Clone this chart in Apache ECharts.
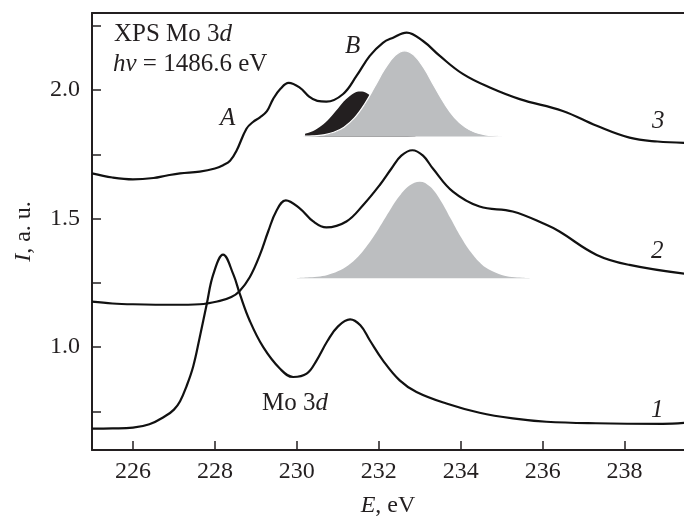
<!DOCTYPE html>
<html>
<head>
<meta charset="utf-8">
<script src="https://cdn.jsdelivr.net/npm/echarts@6/dist/echarts.min.js"></script>
<style>
  html, body { margin: 0; padding: 0; background: #fff; }
  #chart { width: 684px; height: 523px; }
</style>
</head>
<body>
<div id="chart"></div>
<script>
// energies (eV) and intensities (a.u.)
var curve1E = [225.0, 225.5, 226.0, 226.4, 226.8, 227.0, 227.15, 227.3, 227.47, 227.63, 227.8, 227.96, 228.2, 228.45, 228.61, 228.85, 229.18, 229.59, 229.91, 230.24, 230.48, 230.75, 231.0, 231.3, 231.55, 231.78, 232.1, 232.51, 232.92, 233.65, 234.46, 235.27, 236.09, 237.3, 238.93, 239.5];
var curve1I = [0.683, 0.684, 0.687, 0.700, 0.733, 0.757, 0.790, 0.845, 0.925, 1.039, 1.167, 1.283, 1.360, 1.283, 1.206, 1.103, 1.000, 0.916, 0.884, 0.897, 0.948, 1.025, 1.080, 1.108, 1.085, 1.027, 0.949, 0.871, 0.826, 0.781, 0.745, 0.723, 0.710, 0.704, 0.702, 0.706];

var curve2E = [225.0, 225.5, 226.0, 227.0, 227.63, 228.12, 228.4, 228.6, 228.85, 229.1, 229.3, 229.5, 229.73, 230.07, 230.4, 230.72, 231.21, 231.62, 232.02, 232.31, 232.55, 232.82, 233.08, 233.32, 233.81, 234.46, 235.27, 236.09, 236.41, 237.32, 238.12, 239.5];
var curve2I = [1.177, 1.170, 1.167, 1.165, 1.167, 1.180, 1.195, 1.218, 1.272, 1.360, 1.450, 1.530, 1.571, 1.540, 1.489, 1.466, 1.489, 1.553, 1.630, 1.695, 1.745, 1.766, 1.745, 1.695, 1.605, 1.547, 1.528, 1.476, 1.450, 1.359, 1.320, 1.285];

var curve3E = [225.0, 225.5, 226.0, 226.5, 226.83, 227.15, 227.63, 228.0, 228.2, 228.37, 228.53, 228.77, 228.93, 229.1, 229.27, 229.42, 229.6, 229.8, 230.07, 230.3, 230.5, 230.72, 231.13, 231.46, 231.78, 232.1, 232.35, 232.68, 233.08, 233.49, 234.06, 234.71, 235.44, 236.49, 237.32, 238.12, 238.8, 239.5];
var curve3I = [1.676, 1.660, 1.653, 1.658, 1.668, 1.676, 1.683, 1.695, 1.708, 1.725, 1.765, 1.850, 1.876, 1.894, 1.918, 1.965, 2.005, 2.028, 2.010, 1.975, 1.958, 1.955, 1.985, 2.056, 2.133, 2.184, 2.204, 2.224, 2.191, 2.133, 2.062, 2.010, 1.965, 1.919, 1.861, 1.815, 1.800, 1.795];

// fitted components (shaded)
var peak3Base = 1.82;
var peak3E = [230.15, 230.4, 230.65, 230.9, 231.15, 231.4, 231.65, 231.9, 232.15, 232.4, 232.63, 232.85, 233.1, 233.35, 233.6, 233.85, 234.1, 234.35, 234.6, 234.85, 235.0];
var peak3I = [1.821, 1.822, 1.826, 1.836, 1.856, 1.891, 1.945, 2.013, 2.083, 2.135, 2.153, 2.137, 2.086, 2.016, 1.948, 1.893, 1.857, 1.836, 1.826, 1.822, 1.821];

var peakBE = [230.2, 230.4, 230.6, 230.8, 231.0, 231.2, 231.4, 231.55, 231.7, 231.9, 232.1, 232.3, 232.5, 232.7, 232.9];
var peakBI = [1.830, 1.841, 1.861, 1.891, 1.928, 1.964, 1.989, 1.995, 1.989, 1.964, 1.928, 1.891, 1.861, 1.841, 1.821];

var peak2Base = 1.268;
var peak2E = [230.0, 230.25, 230.5, 230.75, 231.0, 231.25, 231.5, 231.75, 232.0, 232.25, 232.5, 232.75, 233.0, 233.25, 233.5, 233.75, 234.0, 234.25, 234.5, 234.75, 235.0, 235.25, 235.5, 235.75];
var peak2I = [1.269, 1.271, 1.274, 1.281, 1.295, 1.318, 1.353, 1.402, 1.462, 1.527, 1.587, 1.629, 1.644, 1.625, 1.573, 1.502, 1.430, 1.369, 1.324, 1.297, 1.281, 1.273, 1.270, 1.268];

var xTicks = [226, 228, 230, 232, 234, 236, 238];
var yTicks = [0.75, 1.0, 1.25, 1.5, 1.75, 2.0, 2.25];
var yLabels = [1.0, 1.5, 2.0];

function pairs(xs, ys) {
    return xs.map(function (x, i) { return [x, ys[i]]; });
}

var ink = '#231f20';
var serif = 'Liberation Serif';
var richItalic = { i: { fontStyle: 'italic', fontFamily: serif, fontSize: 24, color: ink } };
var richNote = { i: { fontStyle: 'italic', fontFamily: serif, fontSize: 25, color: ink } };

function label(txt, x, y) {
    return {
        type: 'text', x: x, y: y,
        style: { text: txt, fontFamily: serif, fontSize: 25, fill: ink, verticalAlign: 'top', rich: richNote }
    };
}

var myChart = echarts.init(document.getElementById('chart'));

var option = {
    animation: false,
    backgroundColor: '#fff',
    grid: { left: 92, top: 13, right: 0, bottom: 70 },
    xAxis: [{
        type: 'value', min: 225, max: 239.45, position: 'bottom',
        name: '{i|E}, eV', nameLocation: 'middle', nameGap: 44,
        nameTextStyle: { fontFamily: serif, fontSize: 24, color: ink, rich: richItalic },
        axisLine: { onZero: false, lineStyle: { color: ink, width: 2 } },
        axisTick: { inside: true, length: 9, customValues: xTicks, lineStyle: { color: ink, width: 1.5 } },
        axisLabel: { customValues: xTicks, fontFamily: serif, fontSize: 24, color: ink, margin: 10 },
        splitLine: { show: false }
    }, {
        type: 'value', min: 225, max: 239.45, position: 'top',
        axisLine: { onZero: false, lineStyle: { color: ink, width: 2 } },
        axisTick: { show: false }, axisLabel: { show: false }, splitLine: { show: false }
    }],
    yAxis: {
        type: 'value', min: 0.6, max: 2.3,
        name: '{i|I}, a. u.', nameLocation: 'middle', nameGap: 56, nameRotate: 90,
        nameTextStyle: { fontFamily: serif, fontSize: 24, color: ink, rich: richItalic },
        axisLine: { onZero: false, lineStyle: { color: ink, width: 2 } },
        axisTick: { inside: true, length: 9, customValues: yTicks, lineStyle: { color: ink, width: 1.5 } },
        axisLabel: {
            customValues: yLabels, fontFamily: serif, fontSize: 24, color: ink, margin: 12,
            formatter: function (v) { return v.toFixed(1); }
        },
        splitLine: { show: false }
    },
    series: [{
        type: 'line', data: pairs(peakBE, peakBI), smooth: 0.4, symbol: 'none', z: 1,
        lineStyle: { width: 0 },
        areaStyle: { color: ink, opacity: 1, origin: peak3Base }
    }, {
        type: 'line', data: pairs(peak3E, peak3I), smooth: 0.4, symbol: 'none', z: 2,
        lineStyle: { color: '#fff', width: 1.2 },
        areaStyle: { color: '#bcbec0', opacity: 1, origin: peak3Base }
    }, {
        type: 'line', data: pairs(peak2E, peak2I), smooth: 0.4, symbol: 'none', z: 2,
        lineStyle: { width: 0 },
        areaStyle: { color: '#bcbec0', opacity: 1, origin: peak2Base }
    }, {
        type: 'line', data: pairs(curve1E, curve1I), smooth: 0.4, symbol: 'none', z: 3,
        lineStyle: { color: '#111', width: 2.2 }
    }, {
        type: 'line', data: pairs(curve2E, curve2I), smooth: 0.4, symbol: 'none', z: 3,
        lineStyle: { color: '#111', width: 2.2 }
    }, {
        type: 'line', data: pairs(curve3E, curve3I), smooth: 0.4, symbol: 'none', z: 3,
        lineStyle: { color: '#111', width: 2.2 }
    }],
    graphic: [
        label('XPS Mo 3{i|d}', 114, 22),
        label('{i|hν} = 1486.6 eV', 113, 52),
        label('{i|A}', 220, 106),
        label('{i|B}', 345, 34),
        label('{i|3}', 652, 109),
        label('{i|2}', 651, 239),
        label('{i|1}', 651, 398),
        label('Mo 3{i|d}', 262, 391)
    ]
};

myChart.setOption(option, true);
</script>
</body>
</html>
